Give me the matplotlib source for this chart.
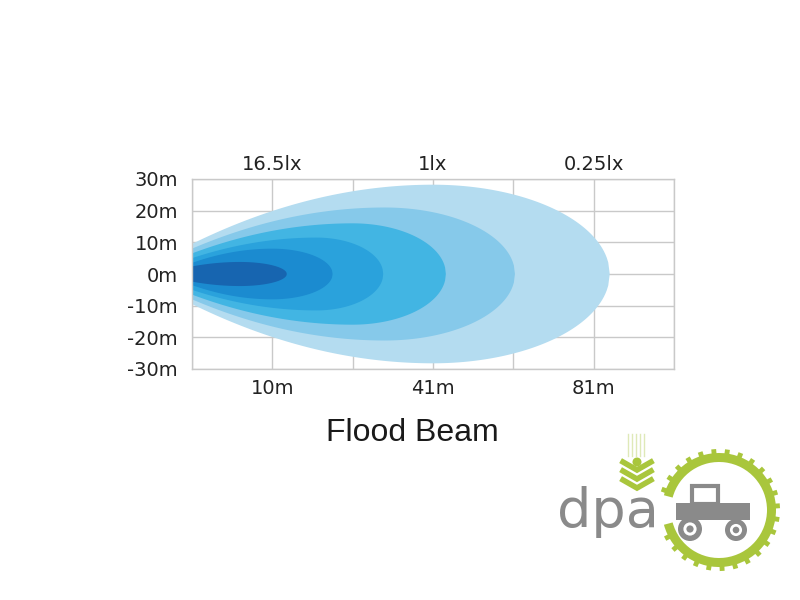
import numpy as np
import matplotlib.pyplot as plt
from matplotlib.patches import Polygon, Wedge, Circle, Rectangle

plt.rcParams['font.family'] = ['Liberation Sans', 'DejaVu Sans']

# beam layers, outermost first: x in grid columns, widths in metres
reach = [5.2, 4.02, 3.16, 2.38, 1.75, 1.18]
peak_at = [3.0, 2.4, 2.0, 1.55, 1.0, 0.6]
half_width = [28.2, 21.0, 16.0, 11.5, 8.0, 3.8]
start_width = [9.5, 8.0, 6.5, 5.0, 3.5, 2.4]
colors = ['#b4dcf0', '#86c9ea', '#42b5e3', '#2aa2dc', '#1b8bd0', '#1765b0']

x_pos = [1, 3, 5]
dist_labels = ['10m', '41m', '81m']
lux_labels = ['16.5lx', '1lx', '0.25lx']
y_vals = [30, 20, 10, 0, -10, -20, -30]


def beam_outline(r, c, w, s, n=120):
    # parabolic rise on the left, elliptical nose on the right
    xl = np.linspace(0, c, n)
    yl = s + (w - s) * (1 - (1 - xl / c) ** 2)
    xr = np.linspace(c, r, n)
    t = (xr - c) / (r - c)
    yr = w * np.sqrt(np.clip(1 - t ** 2, 0, None))
    xs = np.concatenate([xl, xr[1:]]); ys = np.concatenate([yl, yr[1:]])
    return np.column_stack([np.concatenate([xs, xs[::-1]]), np.concatenate([ys, -ys[::-1]])])


fig = plt.figure(figsize=(8, 6), dpi=100)
ax = fig.add_axes([192/800, 1-369/600, (674-192)/800, (369-179)/600])
for r, c, w, s, col in zip(reach, peak_at, half_width, start_width, colors):
    ax.add_patch(Polygon(beam_outline(r, c, w, s), closed=True, fc=col, ec='none', zorder=2))
ax.set_xlim(0, 6); ax.set_ylim(-30, 30)
ax.set_xticks(x_pos); ax.set_xticklabels(dist_labels)
ax.set_yticks(y_vals); ax.set_yticklabels([f'{v}m' for v in y_vals])
ax.set_xticks(range(7), minor=True)
ax.grid(True, which='both', color='#c9c9c9', lw=1)
ax.set_axisbelow(True)
lab = dict(labelsize=14, labelcolor='#222222', labelfontfamily='DejaVu Sans')
ax.tick_params(which='both', length=0, **lab)
ax.tick_params(axis='x', pad=7.5); ax.tick_params(axis='y', pad=10)
for sp in ax.spines.values(): sp.set_color('#c9c9c9'); sp.set_linewidth(1)
top = ax.twiny(); top.set_xlim(0, 6)
top.set_xticks(x_pos); top.set_xticklabels(lux_labels)
top.tick_params(length=0, pad=3.5, **lab)
for sp in top.spines.values(): sp.set_visible(False)

fig.text(412/800, 1-433/600, 'Flood Beam', ha='center', va='center', fontsize=23, color='#1a1a1a')

# logo watermark, bottom right
lg = fig.add_axes([0, 0, 1, 1]); lg.set_xlim(0, 800); lg.set_ylim(600, 0); lg.axis('off')
green = '#a9c63c'; grey = '#8a8a8a'
lg.add_patch(Wedge((719, 510), 57, -165, 165, width=9, fc=green, ec='none'))
for a in np.deg2rad(np.arange(-160, 165, 13)):
    lg.plot([719 + 55*np.cos(a), 719 + 61*np.cos(a)], [510 + 55*np.sin(a), 510 + 61*np.sin(a)],
            color=green, lw=3.5, solid_capstyle='butt')
for dx in [-9, -5, -1, 3, 7]:
    lg.plot([637 + dx, 637 + dx], [434, 456], color='#dfe9b8', lw=1)
lg.add_patch(Circle((637, 462), 4.5, fc=green, ec='none'))
for yy in [470, 479, 488]:
    lg.plot([623, 637, 651], [yy - 8, yy, yy - 8], color=green, lw=4, solid_joinstyle='miter')
lg.text(608, 527, 'dpa', ha='center', va='baseline', fontsize=39, color=grey, family='DejaVu Sans')
lg.add_patch(Rectangle((692, 486), 26, 18, fc='none', ec=grey, lw=3))
lg.add_patch(Rectangle((676, 503), 74, 17, fc=grey, ec='none'))
for cx, cy, rr in [(690, 529, 12), (736, 530, 11)]:
    lg.add_patch(Circle((cx, cy), rr, fc=grey, ec='none'))
    lg.add_patch(Circle((cx, cy), rr*0.55, fc='white', ec='none'))
    lg.add_patch(Circle((cx, cy), rr*0.3, fc=grey, ec='none'))

fig.savefig('out.png', dpi=100)
